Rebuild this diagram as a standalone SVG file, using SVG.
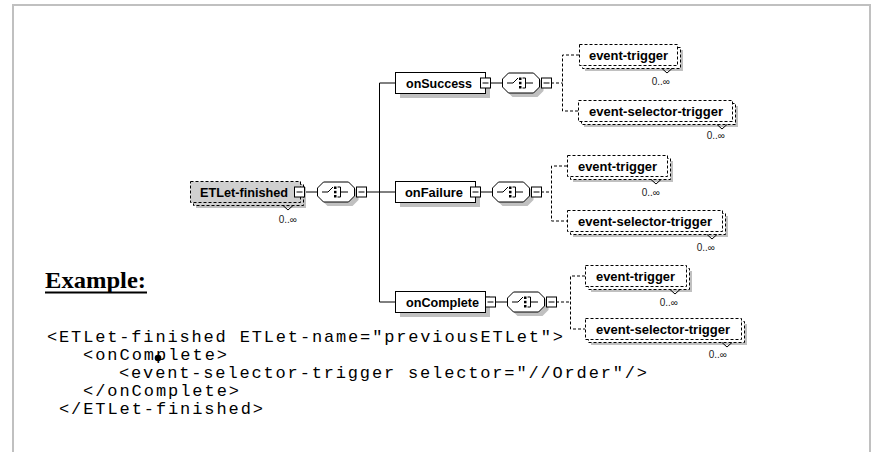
<svg xmlns="http://www.w3.org/2000/svg" xmlns:xlink="http://www.w3.org/1999/xlink" width="873" height="452" viewBox="0 0 873 452">
<style>
.frame{fill:none;stroke:#c0c0c0;stroke-width:2}
.sh{fill:#c0c0c0}
.req{fill:#fff;stroke:#000}
.opt{fill:#fff;stroke:#000;stroke-dasharray:3 2}
.optg{fill:#d0d0d0;stroke:#000;stroke-dasharray:3 2}
.lbl{font-family:"Liberation Sans",Arial,sans-serif;font-weight:bold;font-size:12px;fill:#000}
.occ{font-family:"Liberation Sans",Arial,sans-serif;font-size:10px;fill:#222}
.ln{stroke:#000;fill:none}
.dl{stroke:#000;fill:none;stroke-dasharray:3 2}
.v{stroke:#000;fill:none}
.code{font-family:"Liberation Mono","Courier New",monospace;font-size:17px;fill:#000}
.ex{font-family:"Liberation Serif","Times New Roman",serif;font-weight:bold;font-size:24px;fill:#000}
</style>
<defs>
<g id="minus"><rect x="0.5" y="0.5" width="10" height="10" fill="#fff" stroke="#000"/><line x1="2.5" y1="5.5" x2="8.5" y2="5.5" stroke="#000"/></g>
<g id="seq">
<path class="sh" d="M10.5,4.5 H35.5 L41.5,10.5 V18.5 L35.5,24.5 H10.5 L4.5,18.5 V10.5 Z"/>
<path fill="#fff" stroke="#000" d="M6.5,0.5 H31.5 L37.5,6.5 V14.5 L31.5,20.5 H6.5 L0.5,14.5 V6.5 Z"/>
<path stroke="#000" fill="none" d="M5,10.5 H11 L16,5.5 M20.5,5.5 H23.5 V15.5 H20.5 M23.5,10.5 H31"/>
<rect x="17" y="5" width="2.5" height="2.5"/><rect x="17" y="9.3" width="2.5" height="2.5"/><rect x="17" y="13.5" width="2.5" height="2.5"/>
</g>
</defs>
<rect width="873" height="452" fill="#fff"/>
<path class="frame" d="M13,460 V5 H870 V460"/>

<g id="connectors">
<line class="ln" x1="305" y1="192" x2="317" y2="192"/>
<line class="ln" x1="367" y1="192" x2="379.5" y2="192"/>
<line class="ln" x1="379.5" y1="83" x2="379.5" y2="302"/>
<line class="ln" x1="379.5" y1="83" x2="395" y2="83"/>
<line class="ln" x1="379.5" y1="302" x2="395" y2="302"/>
<line class="ln" x1="379.5" y1="192" x2="395" y2="192"/>
<line class="ln" x1="491" y1="83" x2="502" y2="83"/>
<line class="ln" x1="481" y1="192" x2="492" y2="192"/>
<line class="ln" x1="496" y1="302" x2="507" y2="302"/>
<path class="dl" d="M551,83 H562.5 M579,55 H562.5 V111 H578"/>
<path class="dl" d="M541,192 H551.5 M567,166 H551.5 V221 H567"/>
<path class="dl" d="M556,302 H570.5 M585,276 H570.5 V329 H585"/>
</g>

<g id="ETLet-finished">
<rect class="sh" x="196" y="187" width="110" height="21"/>
<rect class="optg" x="193.5" y="184.5" width="110" height="21"/>
<rect class="optg" x="190.5" y="181.5" width="110" height="21"/>
<polyline class="v" points="283,205.5 288,210 293,205.5"/>
<text class="lbl" x="200" y="197" textLength="88" lengthAdjust="spacingAndGlyphs">ETLet-finished</text>
<use xlink:href="#minus" x="294" y="186.5"/>
<text class="occ" x="297" y="223" text-anchor="end">0..∞</text>
</g>
<g id="seq-main"><use xlink:href="#seq" x="317" y="181.5"/><use xlink:href="#minus" x="356" y="186.5"/></g>

<g id="onSuccess">
<rect class="sh" x="400" y="77" width="90" height="21"/>
<rect class="req" x="395.5" y="72.5" width="90" height="21"/>
<text class="lbl" x="406" y="87.5" textLength="66" lengthAdjust="spacingAndGlyphs">onSuccess</text>
<use xlink:href="#minus" x="480" y="77.5"/>
</g>
<g id="seq-success"><use xlink:href="#seq" x="502" y="72.5"/><use xlink:href="#minus" x="541" y="77.5"/></g>
<g id="event-trigger-1">
<rect class="sh" x="585" y="50" width="98" height="21"/>
<rect class="opt" x="582.5" y="47.5" width="98" height="21"/>
<rect class="opt" x="579.5" y="44.5" width="98" height="21"/>
<polyline class="v" points="662,68.5 667,73 672,68.5"/>
<text class="lbl" x="589" y="59.5" textLength="79" lengthAdjust="spacingAndGlyphs">event-trigger</text>
<text class="occ" x="670" y="85" text-anchor="end">0..∞</text>
</g>
<g id="event-selector-trigger-1">
<rect class="sh" x="584" y="106" width="154" height="21"/>
<rect class="opt" x="581.5" y="103.5" width="154" height="21"/>
<rect class="opt" x="578.5" y="100.5" width="154" height="21"/>
<polyline class="v" points="717,124.5 722,129 727,124.5"/>
<text class="lbl" x="589" y="115.5" textLength="134" lengthAdjust="spacingAndGlyphs">event-selector-trigger</text>
<text class="occ" x="725" y="139" text-anchor="end">0..∞</text>
</g>

<g id="onFailure">
<rect class="sh" x="400" y="186" width="80" height="21"/>
<rect class="req" x="395.5" y="181.5" width="80" height="21"/>
<text class="lbl" x="405" y="196.5" textLength="58" lengthAdjust="spacingAndGlyphs">onFailure</text>
<use xlink:href="#minus" x="470" y="186.5"/>
</g>
<g id="seq-failure"><use xlink:href="#seq" x="492" y="181.5"/><use xlink:href="#minus" x="531" y="186.5"/></g>
<g id="event-trigger-2">
<rect class="sh" x="573" y="161" width="100" height="21"/>
<rect class="opt" x="570.5" y="158.5" width="100" height="21"/>
<rect class="opt" x="567.5" y="155.5" width="100" height="21"/>
<polyline class="v" points="651,179.5 656,184 661,179.5"/>
<text class="lbl" x="578" y="170.5" textLength="79" lengthAdjust="spacingAndGlyphs">event-trigger</text>
<text class="occ" x="660" y="196" text-anchor="end">0..∞</text>
</g>
<g id="event-selector-trigger-2">
<rect class="sh" x="573" y="216" width="155" height="21"/>
<rect class="opt" x="570.5" y="213.5" width="155" height="21"/>
<rect class="opt" x="567.5" y="210.5" width="155" height="21"/>
<polyline class="v" points="707,234.5 712,239 717,234.5"/>
<text class="lbl" x="578" y="225.5" textLength="134" lengthAdjust="spacingAndGlyphs">event-selector-trigger</text>
<text class="occ" x="715" y="251" text-anchor="end">0..∞</text>
</g>

<g id="onComplete">
<rect class="sh" x="400" y="296" width="90" height="21"/>
<rect class="req" x="395.5" y="291.5" width="90" height="21"/>
<text class="lbl" x="406" y="306.5" textLength="73" lengthAdjust="spacingAndGlyphs">onComplete</text>
<use xlink:href="#minus" x="485" y="296.5"/>
</g>
<g id="seq-complete"><use xlink:href="#seq" x="507" y="291.5"/><use xlink:href="#minus" x="546" y="296.5"/></g>
<g id="event-trigger-3">
<rect class="sh" x="591" y="271" width="101" height="21"/>
<rect class="opt" x="588.5" y="268.5" width="101" height="21"/>
<rect class="opt" x="585.5" y="265.5" width="101" height="21"/>
<polyline class="v" points="670,289.5 675,294 680,289.5"/>
<text class="lbl" x="596" y="280.5" textLength="79" lengthAdjust="spacingAndGlyphs">event-trigger</text>
<text class="occ" x="678" y="306" text-anchor="end">0..∞</text>
</g>
<g id="event-selector-trigger-3">
<rect class="sh" x="591" y="324" width="156" height="21"/>
<rect class="opt" x="588.5" y="321.5" width="156" height="21"/>
<rect class="opt" x="585.5" y="318.5" width="156" height="21"/>
<polyline class="v" points="722,342.5 727,347 732,342.5"/>
<text class="lbl" x="596" y="333.5" textLength="134" lengthAdjust="spacingAndGlyphs">event-selector-trigger</text>
<text class="occ" x="727" y="358" text-anchor="end">0..∞</text>
</g>

<g id="example">
<text class="ex" x="45" y="288" textLength="101" lengthAdjust="spacingAndGlyphs">Example:</text>
<line x1="45" y1="292.5" x2="147" y2="292.5" stroke="#000" stroke-width="2"/>
<text class="code" x="47" y="342" textLength="516" lengthAdjust="spacing">&lt;ETLet-finished ETLet-name="previousETLet"&gt;</text>
<text class="code" x="83" y="360" textLength="144" lengthAdjust="spacing">&lt;onComplete&gt;</text>
<text class="code" x="119" y="378" textLength="528" lengthAdjust="spacing">&lt;event-selector-trigger selector="//Order"/&gt;</text>
<text class="code" x="83" y="396" textLength="156" lengthAdjust="spacing">&lt;/onComplete&gt;</text>
<text class="code" x="59" y="414" textLength="204" lengthAdjust="spacing">&lt;/ETLet-finished&gt;</text>
<circle cx="158" cy="358" r="3.3" fill="#000"/>
</g>
</svg>
